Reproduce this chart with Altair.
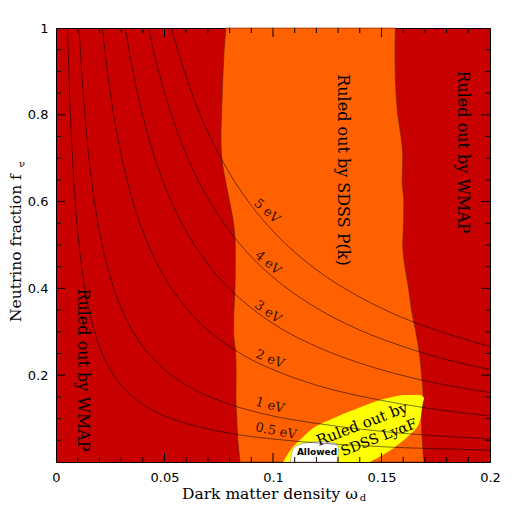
import altair as alt
import pandas as pd

# ---------------- data ----------------
# SDSS P(k) excluded band (orange): left/right edges in omega_d at given f_nu
band_f = [0.0, 0.05, 0.1, 0.15, 0.2, 0.25, 0.3, 0.35, 0.4, 0.45, 0.5,
          0.55, 0.6, 0.65, 0.7, 0.75, 0.8, 0.85, 0.9, 0.95, 1.0]
band_left = [0.0848, 0.0838, 0.0833, 0.0829, 0.0830, 0.0828, 0.0818, 0.0820,
             0.0825, 0.0826, 0.0826, 0.0818, 0.0800, 0.0780, 0.0764, 0.0760,
             0.0763, 0.0766, 0.0770, 0.0775, 0.0783]
band_right = [0.1696, 0.1688, 0.1684, 0.1692, 0.1685, 0.1675, 0.1658, 0.1638,
              0.1625, 0.1608, 0.1598, 0.1602, 0.1603, 0.1595, 0.1598, 0.1590,
              0.1575, 0.1567, 0.1563, 0.1562, 0.1564]

# SDSS Lya forest excluded region (yellow)
lya_f = [0.0, 0.03, 0.058, 0.081, 0.101, 0.120, 0.135, 0.147, 0.1544]
lya_left = [0.1047, 0.1085, 0.1140, 0.1194, 0.1278, 0.1370, 0.1447, 0.1524, 0.1600]
lya_right = [0.1447, 0.1550, 0.1620, 0.1665, 0.1680, 0.1685, 0.1690, 0.1696, 0.1680]

# Allowed region (white)
ok_f = [0.0, 0.030, 0.043, 0.0468]
ok_left = [0.1080, 0.1093, 0.1140, 0.1186]
ok_right = [0.1296, 0.1302, 0.1286, 0.1248]

# neutrino mass contours: (omega_d, f_nu)
m05_w = [0.00532, 0.006, 0.007, 0.008, 0.009, 0.01, 0.012, 0.014, 0.016, 0.018, 0.02,
         0.025, 0.03, 0.035, 0.04, 0.05, 0.06, 0.07, 0.08, 0.1, 0.12, 0.14, 0.16, 0.18, 0.2]
m05_f = [1.0, 0.887, 0.760, 0.665, 0.591, 0.532, 0.443, 0.380, 0.332, 0.296, 0.266,
         0.213, 0.177, 0.152, 0.133, 0.106, 0.089, 0.076, 0.066, 0.053, 0.044, 0.038,
         0.033, 0.030, 0.027]
m1_w = [0.0106, 0.012, 0.014, 0.016, 0.018, 0.02, 0.025, 0.03, 0.035, 0.04, 0.05, 0.06,
        0.07, 0.08, 0.1, 0.12, 0.14, 0.16, 0.18, 0.2]
m1_f = [1.0, 0.887, 0.760, 0.665, 0.591, 0.532, 0.426, 0.355, 0.304, 0.266, 0.213,
        0.177, 0.152, 0.133, 0.106, 0.089, 0.076, 0.066, 0.059, 0.053]
m2_w = [0.0213, 0.025, 0.03, 0.035, 0.04, 0.045, 0.05, 0.06, 0.07, 0.08, 0.09, 0.1,
        0.12, 0.14, 0.16, 0.18, 0.2]
m2_f = [1.0, 0.851, 0.709, 0.608, 0.532, 0.473, 0.426, 0.355, 0.304, 0.266, 0.236,
        0.213, 0.177, 0.152, 0.133, 0.118, 0.106]
m3_w = [0.0319, 0.035, 0.04, 0.045, 0.05, 0.06, 0.07, 0.08, 0.09, 0.1, 0.12, 0.14,
        0.16, 0.18, 0.2]
m3_f = [1.0, 0.912, 0.798, 0.709, 0.638, 0.532, 0.456, 0.399, 0.355, 0.319, 0.266,
        0.228, 0.199, 0.177, 0.160]
m4_w = [0.0426, 0.045, 0.05, 0.055, 0.06, 0.07, 0.08, 0.09, 0.1, 0.12, 0.14, 0.16,
        0.18, 0.2]
m4_f = [1.0, 0.946, 0.851, 0.774, 0.709, 0.608, 0.532, 0.473, 0.426, 0.355, 0.304,
        0.266, 0.236, 0.213]
m5_w = [0.0532, 0.055, 0.06, 0.065, 0.07, 0.08, 0.09, 0.1, 0.12, 0.14, 0.16, 0.18, 0.2]
m5_f = [1.0, 0.967, 0.887, 0.818, 0.760, 0.665, 0.591, 0.532, 0.443, 0.380, 0.332,
        0.296, 0.266]

mass_names = ["0.5 eV", "1 eV", "2 eV", "3 eV", "4 eV", "5 eV"]
mass_label_w = [0.1014, 0.0986, 0.0986, 0.0977, 0.0977, 0.0972]
mass_label_f = [0.071, 0.131, 0.237, 0.346, 0.459, 0.578]
mass_label_angle = [11, 15, 22, 35, 40, 42]

x_ticks = [0, 0.05, 0.1, 0.15, 0.2]
y_ticks = [0.2, 0.4, 0.6, 0.8, 1.0]
x_minor = [0.01, 0.02, 0.03, 0.04, 0.06, 0.07, 0.08, 0.09, 0.11, 0.12, 0.13, 0.14,
           0.16, 0.17, 0.18, 0.19]
x_major = [0.05, 0.1, 0.15]
y_minor = [0.05, 0.1, 0.15, 0.25, 0.3, 0.35, 0.45, 0.5, 0.55, 0.65, 0.7, 0.75,
           0.85, 0.9, 0.95]
y_major = [0.2, 0.4, 0.6, 0.8]

# ---------------- tables ----------------
band_df = pd.DataFrame({"f": band_f, "l": band_left, "r": band_right})
lya_df = pd.DataFrame({"f": lya_f, "l": lya_left, "r": lya_right})
ok_df = pd.DataFrame({"f": ok_f, "l": ok_left, "r": ok_right})

rows = []
for name, ws, fs in zip(mass_names, [m05_w, m1_w, m2_w, m3_w, m4_w, m5_w],
                        [m05_f, m1_f, m2_f, m3_f, m4_f, m5_f]):
    for w, f in zip(ws, fs):
        rows.append({"m": name, "w": w, "f": f})
lines_df = pd.DataFrame(rows)
lab_df = pd.DataFrame({"t": mass_names, "w": mass_label_w, "f": mass_label_f,
                       "a": mass_label_angle})

W = 434
H = 434
xs = alt.Scale(domain=[0, 0.2], nice=False, zero=False)
ys = alt.Scale(domain=[0, 1], nice=False, zero=False)

X_AX = alt.Axis(values=x_ticks, format="~g", ticks=False, domain=False, grid=False,
                labelFont="DejaVu Sans", labelFontSize=13, labelColor="black",
                labelPadding=9, labelFlush=False, title=None)
Y_AX = alt.Axis(values=y_ticks, format="~g", ticks=False, domain=False, grid=False,
                labelFont="DejaVu Sans", labelFontSize=13, labelColor="black",
                labelPadding=8, labelFlush=False, title=None)

band = alt.Chart(band_df).mark_area(
    orient="horizontal", color="#FF6000", interpolate="monotone",
    stroke="#6a2000", strokeWidth=0.6
).encode(
    y=alt.Y("f:Q", scale=ys, axis=Y_AX),
    x=alt.X("l:Q", scale=xs, axis=X_AX),
    x2="r:Q",
)

lya = alt.Chart(lya_df).mark_area(
    orient="horizontal", color="#FFFF00", interpolate="monotone"
).encode(y="f:Q", x="l:Q", x2="r:Q")

ok = alt.Chart(ok_df).mark_area(
    orient="horizontal", color="white", interpolate="monotone",
    stroke="#777777", strokeWidth=0.5
).encode(y="f:Q", x="l:Q", x2="r:Q")

lines = alt.Chart(lines_df).mark_line(
    color="black", strokeWidth=0.75, opacity=0.7, interpolate="monotone", clip=True
).encode(x="w:Q", y="f:Q", detail="m:N")

labels = alt.Chart(lab_df).mark_text(
    font="DejaVu Serif", fontSize=13, color="#3a1200", align="center", baseline="middle"
).encode(x="w:Q", y="f:Q", text="t:N", angle=alt.Angle("a:Q", scale=None))


def tick_layer(vals, orient, length):
    d = pd.DataFrame({"v": vals})
    c = alt.Chart(d).mark_rule(color="black", strokeWidth=1)
    if orient == "bottom":
        return c.encode(x="v:Q", y=alt.value(H), y2=alt.value(H - length))
    if orient == "top":
        return c.encode(x="v:Q", y=alt.value(0), y2=alt.value(length))
    if orient == "left":
        return c.encode(y="v:Q", x=alt.value(0), x2=alt.value(length))
    return c.encode(y="v:Q", x=alt.value(W), x2=alt.value(W - length))


ticks = []
for o in ["bottom", "top"]:
    ticks.append(tick_layer(x_minor, o, 5))
    ticks.append(tick_layer(x_major, o, 9))
for o in ["left", "right"]:
    ticks.append(tick_layer(y_minor, o, 5))
    ticks.append(tick_layer(y_major, o, 9))


def txt(s, x, y, size=15, angle=0, font="DejaVu Serif", weight="normal", align="center",
        color="black"):
    return alt.Chart(pd.DataFrame({"t": [s]})).mark_text(
        font=font, fontSize=size, angle=angle, fontWeight=weight, align=align,
        baseline="middle", color=color
    ).encode(x=alt.value(x), y=alt.value(y), text="t:N")


texts = [
    txt("Ruled out by SDSS P(k)", 287, 142, size=16, angle=90),
    txt("Ruled out by WMAP", 407, 124, size=16, angle=90),
    txt("Ruled out by WMAP", 27, 342, size=16, angle=90),
    txt("Ruled out by", 306, 396, size=15, angle=339),
    txt("SDSS LyαF", 323, 410, size=14, angle=339),
    txt("Allowed", 261, 424, size=9, font="DejaVu Sans", weight="bold"),
    txt("Dark matter density ω", 126, 466, size=15.5, align="left"),
    txt("d", 307, 470, size=10),
    txt("Neutrino fraction f", -40, 294, size=15.5, angle=270, align="left"),
    txt("ν", -34, 136, size=10),
]

chart = alt.layer(band, lya, ok, lines, labels, *ticks, *texts).properties(
    width=W, height=H,
    autosize=alt.AutoSizeParams(type="none"),
    padding={"left": 48, "top": 20, "right": 20, "bottom": 48},
).configure_view(fill="#C80000", stroke="black", strokeWidth=1)

chart.save("out.html", embed_options={"renderer": "svg", "actions": False})
